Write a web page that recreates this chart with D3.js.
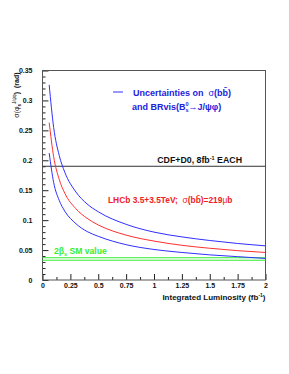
<!DOCTYPE html>
<html>
<head>
<meta charset="utf-8">
<script src="https://cdn.jsdelivr.net/npm/d3@7"></script>
<style>
  body { margin: 0; background: #fff; }
  svg text { font-family: "Liberation Sans", Arial, sans-serif; font-weight: bold; }
</style>
</head>
<body>
<div class="containers"></div>
<script>
// luminosity points (fb^-1) and read-off uncertainties (rad)
const lumi = [0.06, 0.1, 0.15, 0.2, 0.3, 0.4, 0.5, 0.75, 1, 1.25, 1.5, 1.75, 2]
const upperBlue = [0.326, 0.255, 0.208, 0.180, 0.147, 0.127, 0.114, 0.093, 0.080, 0.072, 0.066, 0.061, 0.057]
const central = [0.263, 0.206, 0.168, 0.145, 0.119, 0.103, 0.092, 0.075, 0.065, 0.058, 0.053, 0.049, 0.046]
const lowerBlue = [0.212, 0.163, 0.133, 0.115, 0.094, 0.081, 0.073, 0.059, 0.051, 0.046, 0.042, 0.039, 0.036]
const cdfD0 = 0.19
const smBand = [0.0372, 0.0330]
const xTicks = [0, 0.25, 0.5, 0.75, 1, 1.25, 1.5, 1.75, 2]
const yTicks = [0, 0.05, 0.1, 0.15, 0.2, 0.25, 0.3, 0.35]

const width = 289
const height = 374
const m = { left: 42.5, right: 23.5, top: 70.5, bottom: 94 }

const x = d3.scaleLinear().domain([0, 2]).range([m.left, width - m.right])
const y = d3.scaleLinear().domain([0, 0.35]).range([height - m.bottom, m.top])

const svg = d3.select('.containers')
  .append('svg')
  .attr('width', width)
  .attr('height', height)

// axes, ticks pointing into the frame
svg.append('g')
  .attr('transform', `translate(0,${y(0)})`)
  .call(d3.axisBottom(x).tickValues(xTicks).tickSize(-6).tickPadding(3)
    .tickFormat(d => d3.format('')(d)))
svg.append('g')
  .attr('transform', `translate(0,${y(0)})`)
  .call(d3.axisBottom(x).tickValues(d3.range(0.125, 2, 0.25)).tickSize(-3).tickFormat(''))

svg.append('g')
  .attr('transform', `translate(${x(0)},0)`)
  .call(d3.axisLeft(y).tickValues(yTicks).tickSize(-6).tickPadding(10)
    .tickFormat(d => d3.format('')(+d.toFixed(2))))
svg.append('g')
  .attr('transform', `translate(${x(0)},0)`)
  .call(d3.axisLeft(y).tickValues(d3.range(0.01, 0.35, 0.01).filter(v => Math.round(v * 100) % 5 !== 0))
    .tickSize(-3).tickFormat(''))

svg.selectAll('.domain').remove()
svg.selectAll('.tick line').attr('stroke', '#222')
svg.selectAll('.tick text').attr('font-size', 7).attr('fill', '#111')

// frame
svg.append('rect')
  .attr('x', x(0)).attr('y', y(0.35))
  .attr('width', x(2) - x(0)).attr('height', y(0) - y(0.35))
  .attr('fill', 'none').attr('stroke', '#555').attr('stroke-width', 1)

// horizontal reference lines
svg.append('line')
  .attr('x1', x(0)).attr('x2', x(2))
  .attr('y1', y(cdfD0)).attr('y2', y(cdfD0))
  .attr('stroke', '#333').attr('stroke-width', 1)

svg.selectAll('.sm')
  .data(smBand)
  .join('line')
  .attr('x1', x(0)).attr('x2', x(2))
  .attr('y1', d => y(d)).attr('y2', d => y(d))
  .attr('stroke', '#33ee33').attr('stroke-width', 1)

// curves
const line = d3.line()
  .x((d, i) => x(lumi[i]))
  .y(d => y(d))
  .curve(d3.curveMonotoneX)

const curves = [
  { values: upperBlue, color: '#3030ff' },
  { values: central, color: '#ff3030' },
  { values: lowerBlue, color: '#3030ff' }
]
svg.selectAll('.curve')
  .data(curves)
  .join('path')
  .attr('class', 'curve')
  .attr('d', d => line(d.values))
  .attr('fill', 'none')
  .attr('stroke', d => d.color)
  .attr('stroke-width', 1)

// legend
svg.append('line')
  .attr('x1', 113).attr('x2', 123).attr('y1', 92).attr('y2', 92)
  .attr('stroke', '#3030ff').attr('stroke-width', 1)

const leg1 = svg.append('text').attr('x', 133).attr('y', 95.5)
  .attr('font-size', 9).attr('fill', '#2222dd')
leg1.append('tspan').text('Uncertainties on\u00a0\u00a0')
leg1.append('tspan').attr('font-weight', 'normal').text('σ')
leg1.append('tspan').text('(b')
leg1.append('tspan').text('b\u0304')
leg1.append('tspan').text(')')

const leg2 = svg.append('text').attr('x', 132).attr('y', 109.5)
  .attr('font-size', 9).attr('fill', '#2222dd')
leg2.append('tspan').text('and BRvis(B')
leg2.append('tspan').attr('font-size', 5.5).attr('dy', -3.5).text('0')
leg2.append('tspan').attr('font-size', 5.5).attr('dx', -3.2).attr('dy', 6).text('s')
leg2.append('tspan').attr('dy', -2.5).text('\u2192J/\u03c8\u03c6)')

// CDF+D0 label
const cdf = svg.append('text').attr('x', 242).attr('y', 163)
  .attr('text-anchor', 'end').attr('font-size', 8.8).attr('fill', '#111')
cdf.append('tspan').text('CDF+D0, 8fb')
cdf.append('tspan').attr('font-size', 5.5).attr('dy', -3).text('-1')
cdf.append('tspan').attr('dy', 3).text(' EACH')

// LHCb label
const lhcb = svg.append('text').attr('x', 108).attr('y', 203)
  .attr('font-size', 8.4).attr('fill', '#ee2222')
lhcb.append('tspan').text('LHCb 3.5+3.5TeV;\u00a0\u00a0')
lhcb.append('tspan').attr('font-weight', 'normal').text('σ')
lhcb.append('tspan').text('(bb\u0304)=219')
lhcb.append('tspan').attr('font-weight', 'normal').text('μ')
lhcb.append('tspan').text('b')

// SM label
const sm = svg.append('text').attr('x', 54).attr('y', 254)
  .attr('font-size', 8.6).attr('fill', '#33ee33')
sm.append('tspan').text('2β')
sm.append('tspan').attr('font-size', 5.5).attr('dy', 2).text('s')
sm.append('tspan').attr('dy', -2).text(' SM value')

// axis titles
const xt = svg.append('text').attr('x', x(2)).attr('y', 300)
  .attr('text-anchor', 'end').attr('font-size', 8).attr('fill', '#111')
xt.append('tspan').text('Integrated Luminosity (fb')
xt.append('tspan').attr('font-size', 5).attr('dy', -3).text('-1')
xt.append('tspan').attr('dy', 3).text(')')

const yt = svg.append('text')
  .attr('transform', `translate(19,${y(0.35) + 2}) rotate(-90)`)
  .attr('text-anchor', 'end').attr('font-size', 7).attr('fill', '#111')
yt.append('tspan').attr('font-weight', 'normal').text('σ(φ')
yt.append('tspan').attr('font-size', 4.5).attr('dy', 2).text('s')
yt.append('tspan').attr('font-size', 4.5).attr('dy', -5).attr('font-weight', 'normal').text('J/ψφ')
yt.append('tspan').attr('dy', 3).text(')\u00a0\u00a0(rad)')
</script>
</body>
</html>
